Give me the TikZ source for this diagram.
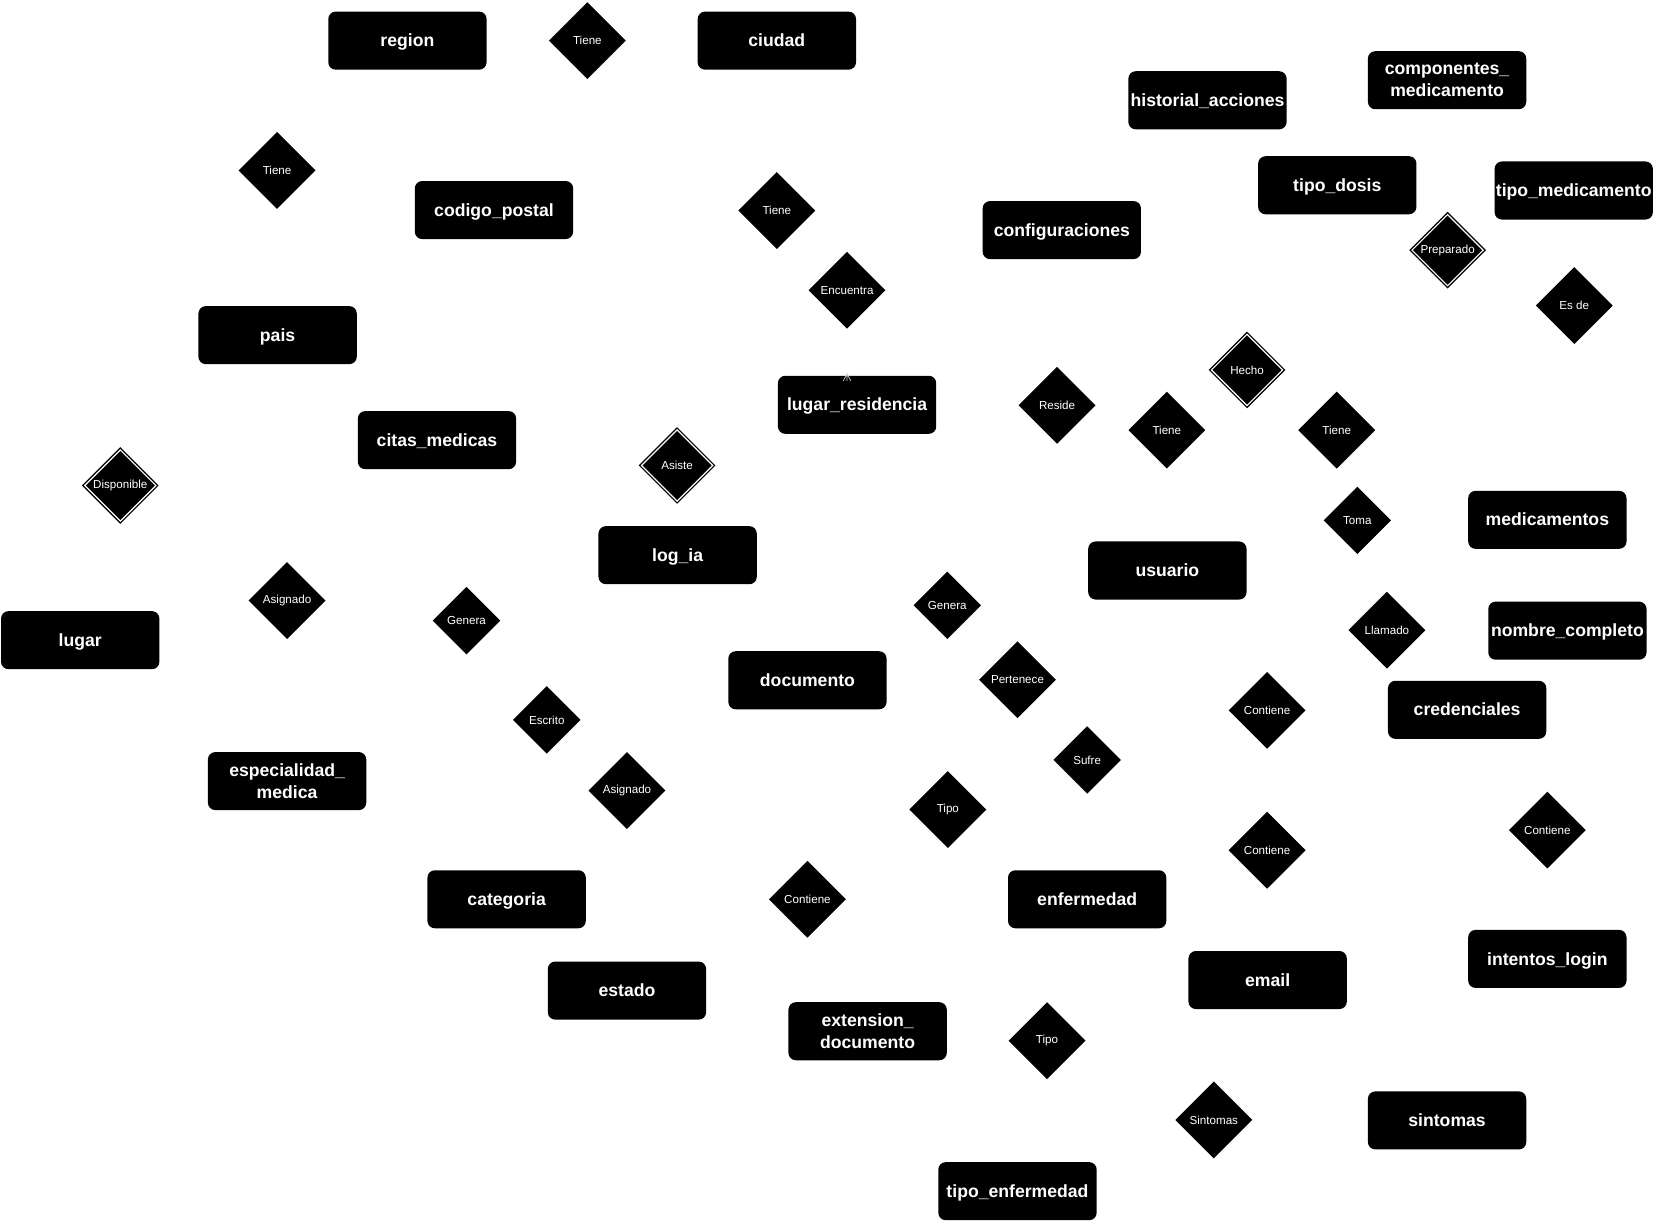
\documentclass[tikz,border=0pt]{standalone}
\usepackage{fontspec}
\setmainfont{Liberation Sans}
\usetikzlibrary{shapes.geometric,calc}
\tikzset{
  ent/.style={rectangle, rounded corners=7pt, fill=black, text=white,
    minimum width=150pt, minimum height=55pt, inner sep=0pt, align=center,
    text height=15.1pt, text depth=3.5pt,
    font=\bfseries\fontsize{16.7}{21}\selectfont},
  ent2/.style={ent, text height=, text depth=},
  rel/.style={diamond, aspect=1, fill=black, text=white,
    minimum width=73pt, minimum height=73pt, inner sep=0pt,
    font=\fontsize{11}{13}\selectfont},
  relsm/.style={rel, minimum width=64pt, minimum height=64pt},
  relw/.style={rel, draw=black, double=white, double distance=1.1pt,
    line width=1.3pt, minimum width=68pt, minimum height=68pt},
  ghost/.style={draw=white, line width=0.7pt},
  crow/.style={draw=gray!40, line width=0.7pt}
}
\begin{document}
\begin{tikzpicture}[x=1pt,y=-1pt]
\useasboundingbox[fill=white] (0,0) rectangle (1568,1157);

% entities
\node[ent] (region) at (386,38.5) {region};
\node[ent] (ciudad) at (736,38.5) {ciudad};
\node[ent] (historial) at (1144,95) {historial\_acciones};
\node[ent2] (componentes) at (1371,76) {componentes\_\\medicamento};
\node[ent] (tipodosis) at (1267,175.5) {tipo\_dosis};
\node[ent] (tipomed) at (1491,180.5) {tipo\_medicamento};
\node[ent] (cp) at (468,199) {codigo\_postal};
\node[ent] (config) at (1006,218) {configuraciones};
\node[ent] (pais) at (263,317.5) {pais};
\node[ent] (lr) at (812,383.5) {lugar\_residencia};
\node[ent] (citas) at (414,417) {citas\_medicas};
\node[ent] (logia) at (642,526) {log\_ia};
\node[ent] (usuario) at (1106,540.5) {usuario};
\node[ent] (medicamentos) at (1466,492.5) {medicamentos};
\node[ent] (lugar) at (76,606.5) {lugar};
\node[ent] (nombre) at (1485,597.5) {nombre\_completo};
\node[ent] (documento) at (765,644.5) {documento};
\node[ent] (credenciales) at (1390,672.5) {credenciales};
\node[ent2] (especialidad) at (272,740) {especialidad\_\\medica};
\node[ent] (categoria) at (480,852) {categoria};
\node[ent] (enfermedad) at (1030,852) {enfermedad};
\node[ent] (intentos) at (1466,908.5) {intentos\_login};
\node[ent] (email) at (1201,928.5) {email};
\node[ent] (estado) at (594,938.5) {estado};
\node[ent2] (extension) at (822,977) {extension\_\\documento};
\node[ent] (sintomas) at (1371,1061.5) {sintomas};
\node[ent] (tipoenf) at (964,1128.5) {tipo\_enfermedad};

% relationships
\node[rel] (r1) at (556.5,38.5) {Tiene};
\node[rel] (r2) at (262.5,161.5) {Tiene};
\node[rel] (r3) at (736,199.5) {Tiene};
\node[rel] (enc) at (802.5,275) {Encuentra};
\node[relw] (prep) at (1371.5,237) {Preparado};
\node[rel] (esde) at (1491.5,289.5) {Es de};
\node[relw] (hecho) at (1181.5,350.5) {Hecho};
\node[rel] (reside) at (1001.5,384) {Reside};
\node[rel] (r4) at (1105.5,407.5) {Tiene};
\node[rel] (r5) at (1266.5,407.5) {Tiene};
\node[relw] (asiste) at (641.5,441) {Asiste};
\node[relw] (disp) at (114,460) {Disponible};
\node[relsm] (toma) at (1286,493) {Toma};
\node[rel] (asig1) at (272,569) {Asignado};
\node[relsm] (gen1) at (442,588) {Genera};
\node[relsm] (gen2) at (897.5,573.5) {Genera};
\node[rel] (llamado) at (1314,597) {Llamado};
\node[rel] (pert) at (964,644) {Pertenece};
\node[rel] (cont1) at (1200.5,673) {Contiene};
\node[relsm] (escrito) at (518,682) {Escrito};
\node[relsm] (sufre) at (1030,720) {Sufre};
\node[rel] (asig2) at (594,749) {Asignado};
\node[rel] (tipo1) at (898,767) {Tipo};
\node[rel] (cont2) at (1466,786.5) {Contiene};
\node[rel] (cont3) at (1200.5,805.5) {Contiene};
\node[rel] (cont4) at (765,852) {Contiene};
\node[rel] (tipo2) at (992,986) {Tipo};
\node[rel] (sint) at (1150,1061) {Sintomas};

% leftover connector (white on white) with its crow's foot on lugar_residencia
\coordinate (lrtop) at (enc.south |- lr.north);
\draw[ghost] (enc.south) -- (lrtop);
\draw[crow] ($(lrtop)+(0,-1.5)$) -- ($(lrtop)+(0,5)$)
            ($(lrtop)+(-3.5,5)$) -- ($(lrtop)+(0,-1.5)$) -- ($(lrtop)+(3.5,5)$);
\end{tikzpicture}
\end{document}
